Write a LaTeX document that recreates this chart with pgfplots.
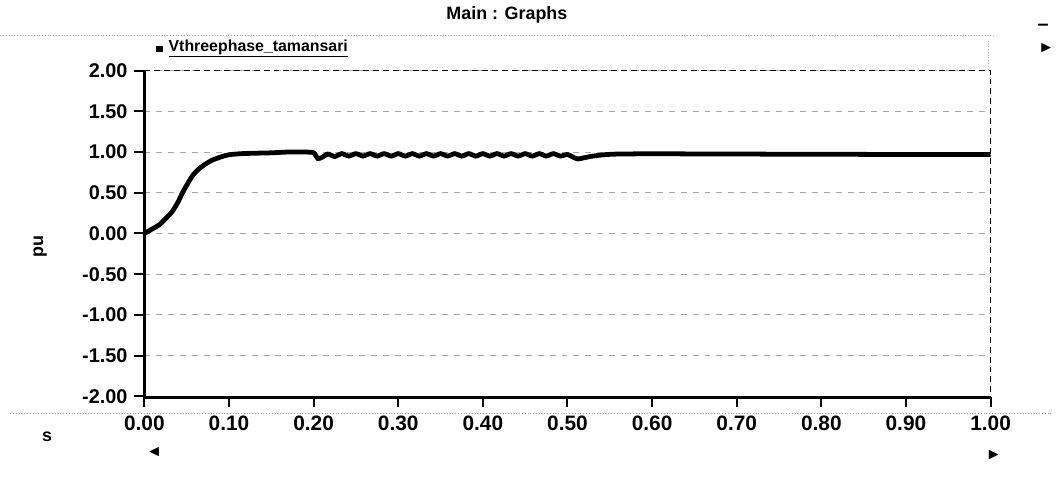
\documentclass[border=0pt]{standalone}
\usepackage{amssymb}
\usepackage{fontspec}
\setmainfont{Liberation Sans}
\usepackage{pgfplots}
\pgfplotsset{compat=1.18}

\begin{document}
\begin{tikzpicture}[x=0.5pt,y=0.5pt]
% page frame: pixel (px,py) -> (px-145, 396-py)
\path (-145,396) rectangle (914,-93);
% window frame
\draw[gray!70, densely dotted] (-145,363) -- (855,363);
\draw[gray!70, densely dotted] (850,358) -- (850,328);
\draw[gray!70, densely dotted] (-135,-17) -- (914,-17);
\node[font=\bfseries\small] at (365,384) {Main : Graphs};
\node[font=\bfseries] at (905,372) {--};
\node[font=\scriptsize] at (908,351) {$\blacktriangleright$};
\node[font=\scriptsize] at (10,-56) {$\blacktriangleleft$};
\node[font=\scriptsize] at (855,-59) {$\blacktriangleright$};
\node[font=\bfseries\small, rotate=90] at (-105,151) {pu};
\node[font=\bfseries\small] at (-98,-41) {s};

\begin{axis}[
  at={(0,0)}, anchor=south west,
  scale only axis, width=426pt, height=164pt,
  xmin=0, xmax=1, ymin=-2, ymax=2,
  axis y line=left, axis line style={line width=1.5pt, -},
  hide x axis,
  ytick={-2,-1.5,...,2},
  tick align=outside, major tick length=5pt,
  ytick style={line width=1pt, black},
  yticklabel style={font=\bfseries\fontsize{10}{12}\selectfont},
  /pgf/number format/.cd, fixed, fixed zerofill, precision=2, assume math mode=true,
  /pgfplots/.cd,
  grid=major, grid style={gray!70, dashed, thin},
  xtick={0,0.1,...,1},
  clip=false,
]
\draw[black, densely dashed, thin] (axis cs:0,2) -- (axis cs:1,2) -- (axis cs:1,-2);
\draw[gray!70, dashed, thin] (axis cs:0,-2) -- (axis cs:1,-2);
\addplot[black, line width=2.4pt, smooth, tension=0.4] coordinates {
  (0.000,0.00) (0.005,0.03) (0.012,0.07) (0.018,0.11) (0.025,0.18)
  (0.033,0.27) (0.040,0.39) (0.045,0.50) (0.051,0.61) (0.057,0.71)
  (0.064,0.79) (0.072,0.85) (0.080,0.90) (0.088,0.93) (0.095,0.955)
  (0.103,0.97) (0.115,0.98) (0.130,0.985) (0.150,0.99) (0.170,1.00)
  (0.190,1.00) (0.200,0.99)
  (0.205,0.92) (0.210,0.935)
  (0.2167,0.975) (0.2250,0.945) (0.2333,0.98) (0.2417,0.95)
  (0.2500,0.98) (0.2583,0.95) (0.2667,0.98) (0.2750,0.95)
  (0.2833,0.98) (0.2917,0.95) (0.3000,0.98) (0.3083,0.95)
  (0.3167,0.98) (0.3250,0.95) (0.3333,0.98) (0.3417,0.95)
  (0.3500,0.98) (0.3583,0.95) (0.3667,0.98) (0.3750,0.95)
  (0.3833,0.98) (0.3917,0.95) (0.4000,0.98) (0.4083,0.95)
  (0.4167,0.98) (0.4250,0.95) (0.4333,0.98) (0.4417,0.95)
  (0.4500,0.98) (0.4583,0.95) (0.4667,0.98) (0.4750,0.95)
  (0.4833,0.98) (0.4917,0.95) (0.5000,0.97)
  (0.506,0.94) (0.512,0.915) (0.520,0.93) (0.530,0.95)
  (0.545,0.968) (0.560,0.975) (0.600,0.978) (0.700,0.975)
  (0.800,0.972) (0.900,0.97) (1.000,0.968)
};
\end{axis}

% separate time axis below the plot
\begin{axis}[
  at={(0,-44)}, anchor=south west,
  scale only axis, width=426pt, height=1pt,
  xmin=0, xmax=1, ymin=0, ymax=1,
  axis x line=bottom, hide y axis,
  axis line style={line width=1.5pt, -},
  xtick={0,0.1,...,1},
  tick align=outside, major tick length=5pt,
  xtick style={line width=1pt, black},
  xticklabel style={font=\bfseries\fontsize{10.5}{12}\selectfont, yshift=-1pt},
  /pgf/number format/.cd, fixed, fixed zerofill, precision=2, assume math mode=true,
]
\end{axis}

% legend
\fill (12,347) rectangle (19,353);
\node[font=\bfseries\footnotesize, anchor=west, inner sep=0pt] (lg) at (24,350) {\underline{Vthreephase\_tamansari}};
\end{tikzpicture}
\end{document}
